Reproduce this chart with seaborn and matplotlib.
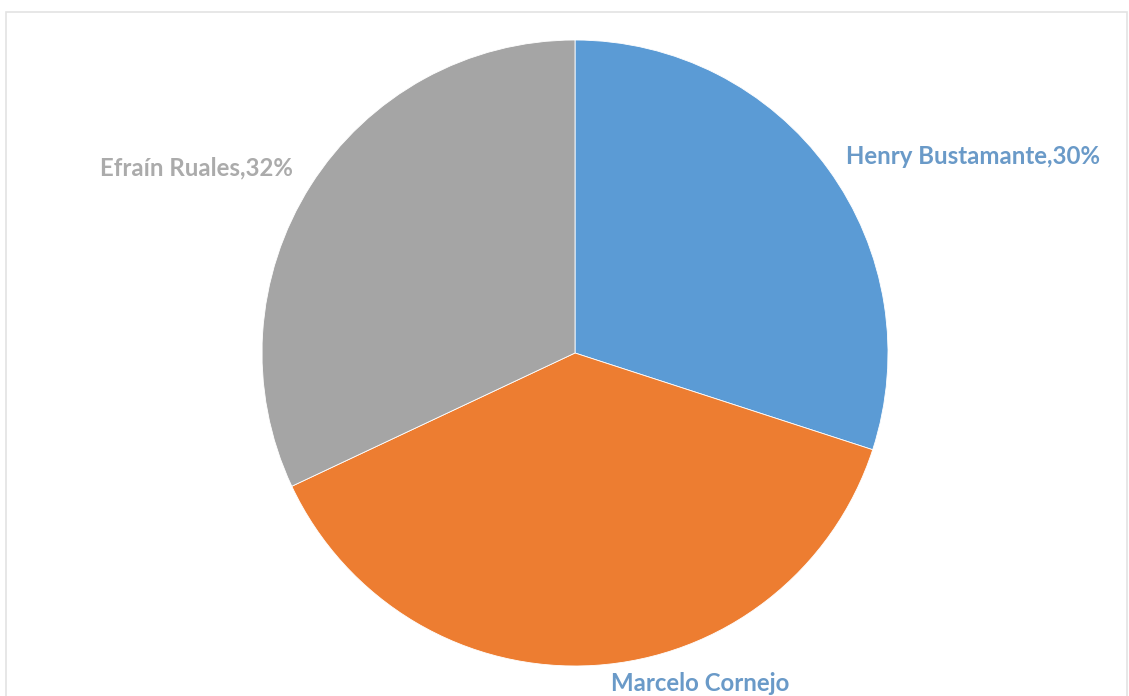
import matplotlib
matplotlib.use("Agg")
import matplotlib.pyplot as plt
import seaborn as sns
from matplotlib.patches import Rectangle

# Data
names = ["Henry Bustamante", "Marcelo Cornejo", "Efraín Ruales"]
shares = [30, 38, 32]
label_texts = ["Henry Bustamante,30%", "Marcelo Cornejo", "Efraín Ruales,32%"]

sns.set_theme(style="white")
plt.rcParams['font.family'] = ['Lato', 'DejaVu Sans']

slice_colors = ["#5B9BD5", "#ED7D31", "#A5A5A5"]
label_colors = ["#6A9AC8", "#6A9AC8", "#ABABAB"]

W, H = 1129, 696
fig = plt.figure(figsize=(W / 100, H / 100), dpi=100)
fig.patch.set_facecolor("white")
ax = fig.add_axes([0, 0, 1, 1])

cx, cy, r = 575, H - 353, 313
ax.pie(shares, colors=slice_colors, startangle=90, counterclock=False,
       center=(cx, cy), radius=r,
       wedgeprops=dict(edgecolor="white", linewidth=0.6))
ax.set_xlim(0, W)
ax.set_ylim(0, H)
ax.set_aspect("equal", adjustable="box")
ax.axis("off")

# chart frame
ax.add_patch(Rectangle((6, -20), W - 2 - 6, H - 12 + 20, fill=False,
                       edgecolor="#E3E3E3", linewidth=1.2, clip_on=False))

# labels
fs = 17.3
ax.text(1100, H - 156, label_texts[0], ha="right", va="center",
        fontsize=fs, fontweight="bold", color=label_colors[0])
ax.text(700, H - 691, label_texts[1], ha="center", va="baseline",
        fontsize=fs, fontweight="bold", color=label_colors[1])
ax.text(100, H - 168, label_texts[2], ha="left", va="center",
        fontsize=fs, fontweight="bold", color=label_colors[2])

fig.savefig("out.png", dpi=100, facecolor="white")
